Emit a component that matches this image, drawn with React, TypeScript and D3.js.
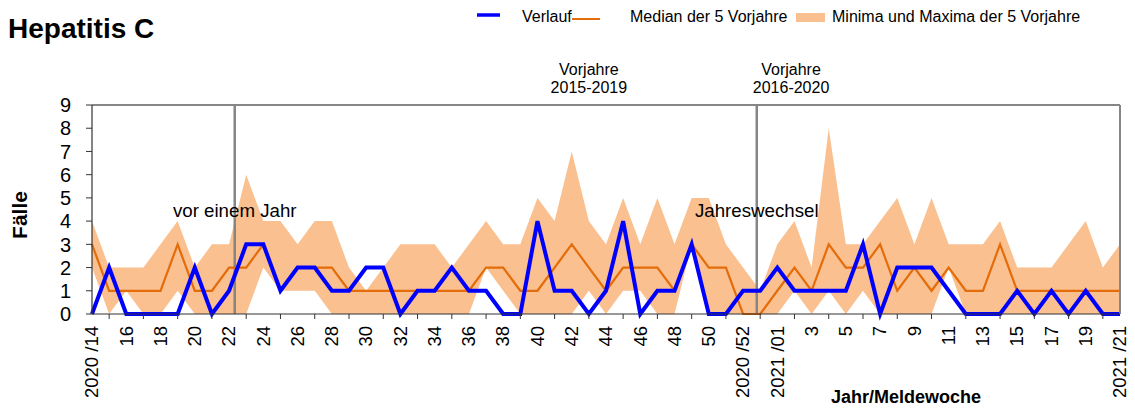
import React from "react";
import * as d3 from "d3";

// Meldewochen 2020/14 .. 2020/53, 2021/01 .. 2021/21
const weeks = [14,15,16,17,18,19,20,21,22,23,24,25,26,27,28,29,30,31,32,33,34,35,36,37,38,39,40,41,42,43,44,45,46,47,48,49,50,51,52,53,1,2,3,4,5,6,7,8,9,10,11,12,13,14,15,16,17,18,19,20,21];

const verlauf = [0,2,0,0,0,0,2,0,1,3, 3,1,2,2,1,1,2,2,0,1, 1,2,1,1,0,0,4,1,1,0, 1,4,0,1,1,3,0,0,1,1, 2,1,1,1,1,3,0,2,2,2, 1,0,0,0,1,0,1,0,1,0, 0];
const median5 = [3,1,1,1,1,3,1,1,2,2, 3,1,2,2,2,1,1,1,1,1, 1,1,1,2,2,1,1,2,3,2, 1,2,2,2,1,3,2,2,0,0, 1,2,1,3,2,2,3,1,2,1, 2,1,1,3,1,1,1,1,1,1, 1];
const maxima5 = [4,2,2,2,3,4,2,3,3,6, 4,4,3,4,4,2,1,2,3,3, 3,2,3,4,3,3,5,4,7,4, 3,5,3,5,3,5,5,3,2,1, 3,4,2,8,3,3,4,5,3,5, 3,3,3,4,2,2,2,3,4,2, 3];
const minima5 = [2,0,1,0,0,1,0,0,0,0, 2,1,1,1,0,0,0,0,0,0, 0,0,0,2,1,0,0,0,0,1, 0,1,1,0,0,3,0,0,0,0, 0,1,0,1,0,1,0,0,0,0, 2,0,0,0,0,0,0,0,0,0, 0];

const xTickLabels = ["2020 /14","16","18","20","22","24","26","28","30","32","34","36","38","40","42","44","46","48","50","2020 /52","2021 /01","3","5","7","9","11","13","15","17","19","2021 /21"];
const yTicks = [0,1,2,3,4,5,6,7,8,9];

const markers = [
  { label: "vor einem Jahr", pos: 8.33 },
  { label: "Jahreswechsel", pos: 38.8 },
];
const periods = [
  { lines: ["Vorjahre", "2015-2019"], pos: 29 },
  { lines: ["Vorjahre", "2016-2020"], pos: 40.8 },
];

const FONT = "'Liberation Sans', Arial, Helvetica, sans-serif";

export default function App() {
  const W = 1135, H = 409;
  const left = 92, right = 1120, top = 105, bottom = 314;
  const x = d3.scaleLinear().domain([0, weeks.length - 1]).range([left, right]);
  const y = d3.scaleLinear().domain([0, 9]).range([bottom, top]);
  const idx = weeks.map((_, i) => i);

  const area = d3.area<number>().x((i) => x(i)).y0((i) => y(minima5[i])).y1((i) => y(maxima5[i]));
  const medLine = d3.line<number>().x((i) => x(i)).y((i) => y(median5[i]));
  const verLine = d3.line<number>().x((i) => x(i)).y((i) => y(verlauf[i]));

  const oddIdx = idx.filter((i) => i % 2 === 1);
  const evenIdx = idx.filter((i) => i % 2 === 0);

  return (
    <svg width={W} height={H} style={{ position: "absolute", left: 0, top: 0, fontFamily: FONT }}>
      <rect x={0} y={0} width={W} height={H} fill="#fff" />
      <text x={8} y={38} fontSize={28} fontWeight="bold" fill="#000">Hepatitis C</text>

      {/* legend */}
      <line x1={477} x2={500} y1={15} y2={15} stroke="#0000ff" strokeWidth={3.5} />
      <text x={522} y={22} fontSize={16} fill="#000">Verlauf</text>
      <line x1={572} x2={600} y1={19} y2={19} stroke="#e46c0a" strokeWidth={2} />
      <text x={630} y={22} fontSize={16} fill="#000">Median der 5 Vorjahre</text>
      <rect x={796} y={13} width={29} height={9} fill="#fac090" />
      <text x={832} y={22} fontSize={16} fill="#000">Minima und Maxima der 5 Vorjahre</text>

      {periods.map((p, k) => (
        <text key={k} x={x(p.pos)} textAnchor="middle" fontSize={16} fill="#000">
          <tspan x={x(p.pos)} y={75}>{p.lines[0]}</tspan>
          <tspan x={x(p.pos)} y={93}>{p.lines[1]}</tspan>
        </text>
      ))}

      <path d={area(idx) || ""} fill="#fac090" stroke="none" />

      {markers.map((m, k) => (
        <line key={k} x1={x(m.pos)} x2={x(m.pos)} y1={top} y2={bottom} stroke="#858585" strokeWidth={2.5} />
      ))}
      {markers.map((m, k) => (
        <text key={"t" + k} x={x(m.pos)} y={217} textAnchor="middle" fontSize={18.7} fill="#000">{m.label}</text>
      ))}

      <path d={medLine(idx) || ""} fill="none" stroke="#e46c0a" strokeWidth={2.2} />
      <path d={verLine(idx) || ""} fill="none" stroke="#0000ff" strokeWidth={4} strokeLinejoin="miter" />

      {/* frame */}
      <line x1={left} x2={right} y1={top} y2={top} stroke="#868686" strokeWidth={2} />
      <line x1={right} x2={right} y1={top} y2={bottom} stroke="#868686" strokeWidth={2} />
      <line x1={left} x2={left} y1={top} y2={bottom} stroke="#333" strokeWidth={1.2} />
      <line x1={left} x2={right} y1={bottom} y2={bottom} stroke="#333" strokeWidth={1.2} />

      {yTicks.map((t) => (
        <g key={t}>
          <line x1={left - 6} x2={left} y1={y(t)} y2={y(t)} stroke="#333" strokeWidth={1} />
          <text x={71} y={y(t)} dy="0.36em" textAnchor="end" fontSize={20} fill="#000">{t}</text>
        </g>
      ))}

      {oddIdx.map((i) => (
        <line key={i} x1={x(i)} x2={x(i)} y1={bottom} y2={bottom + 5} stroke="#333" strokeWidth={1} />
      ))}
      {evenIdx.map((i, k) => (
        <text key={i} transform={`translate(${x(i)},${326}) rotate(-90)`} textAnchor="end" dy="0.34em" fontSize={18.5} fill="#000">
          {xTickLabels[k]}
        </text>
      ))}

      <text transform="translate(27,215) rotate(-90)" textAnchor="middle" fontSize={21} fontWeight="bold" fill="#000">Fälle</text>
      <text x={906} y={403} textAnchor="middle" fontSize={18} fontWeight="bold" fill="#000">Jahr/Meldewoche</text>
    </svg>
  );
}
